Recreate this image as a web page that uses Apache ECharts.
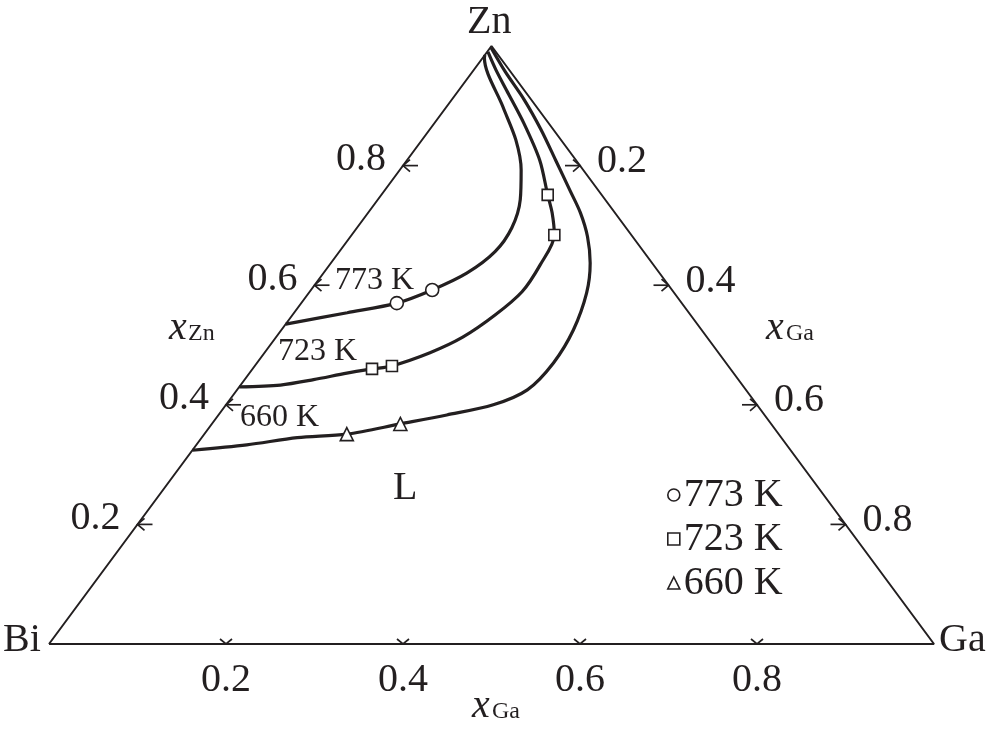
<!DOCTYPE html>
<html>
<head>
<meta charset="utf-8">
<script src="https://cdn.jsdelivr.net/npm/echarts@6/dist/echarts.min.js"></script>
<style>
  html, body { margin: 0; padding: 0; background: #fff; }
  #chart { width: 1000px; height: 734px; }
</style>
</head>
<body>
<div id="chart"></div>
<script>
// liquidus curves, points given as [xGa, xZn]
const curve773 = [
  [0.000, 0.535], [0.060, 0.554], [0.108, 0.570], [0.137, 0.592], [0.162, 0.620],
  [0.176, 0.656], [0.175, 0.696], [0.161, 0.743], [0.137, 0.793], [0.106, 0.843],
  [0.064, 0.898], [0.002, 0.980], [0.000, 0.985]
];
const curve723 = [
  [0.000, 0.430], [0.045, 0.433], [0.078, 0.442], [0.110, 0.453], [0.135, 0.460],
  [0.155, 0.465], [0.187, 0.487], [0.211, 0.513], [0.229, 0.550], [0.240, 0.589],
  [0.238, 0.634], [0.229, 0.684], [0.208, 0.721], [0.188, 0.751], [0.150, 0.809],
  [0.101, 0.871], [0.054, 0.926], [0.025, 0.960], [0.001, 0.990]
];
const curve660 = [
  [0.000, 0.324], [0.057, 0.333], [0.108, 0.345], [0.161, 0.351], [0.213, 0.368],
  [0.258, 0.383], [0.302, 0.400], [0.328, 0.425], [0.335, 0.470], [0.330, 0.525],
  [0.314, 0.587], [0.293, 0.637], [0.268, 0.681], [0.240, 0.721], [0.209, 0.759],
  [0.168, 0.809], [0.126, 0.860], [0.082, 0.910], [0.037, 0.957], [0.001, 0.997]
];

// experimental points, [xGa, xZn]
const points773 = [[0.108, 0.570], [0.137, 0.592]];
const points723 = [[0.135, 0.460], [0.155, 0.465], [0.229, 0.684], [0.188, 0.751]];
const points660 = [[0.161, 0.351], [0.213, 0.368]];

const seriesNames = ['773 K', '723 K', '660 K'];
const tickValues = [0.2, 0.4, 0.6, 0.8];
const tickLabels = ['0.2', '0.4', '0.6', '0.8'];
const vertices = [[0, 0], [1, 0], [0, 1], [0, 0]]; // Bi, Ga, Zn as [xGa, xZn]

const ink = '#231f20';
const serif = '"Liberation Serif", "DejaVu Serif", serif';

// ternary [xGa, xZn] -> plane [x, y]
const toXY = (p) => [p[0] + p[1] / 2, p[1]];

const curveSeries = (data) => ({
  type: 'line',
  data: data.map(toXY),
  smooth: 0.3,
  symbol: 'none',
  lineStyle: { color: ink, width: 3.2 },
  z: 3,
});

const markerSeries = (name, symbol, size, data) => ({
  name,
  type: 'scatter',
  data: data.map(toXY),
  symbol,
  symbolSize: size,
  itemStyle: { color: '#fff', borderColor: ink, borderWidth: 1.6, opacity: 1 },
  z: 5,
});

const lineStyle = { stroke: ink, lineWidth: 1.7, fill: null };
const tickText = (text, x, y) => ({
  type: 'text',
  style: {
    text, x, y, fill: ink, font: `40px ${serif}`, align: 'center', verticalAlign: 'middle',
  },
});

const tickSeries = (side) => ({
  type: 'custom',
  data: tickValues.map((v, i) => [v, i]),
  z: 4,
  renderItem(params, api) {
    const v = api.value(0);
    const label = tickLabels[api.value(1)];
    let p;
    let children;
    if (side === 'left') {
      p = api.coord(toXY([0, v]));
      children = [
        { type: 'polyline', shape: { points: [[p[0] + 15, p[1]], [p[0], p[1]]] }, style: lineStyle },
        { type: 'polyline', shape: { points: [[p[0] + 7, p[1] - 6], [p[0], p[1]], [p[0] + 7, p[1] + 6]] }, style: lineStyle },
        tickText(label, p[0] - 42, p[1] - 6),
      ];
    } else if (side === 'right') {
      p = api.coord(toXY([v, 1 - v]));
      children = [
        { type: 'polyline', shape: { points: [[p[0] - 15, p[1]], [p[0], p[1]]] }, style: lineStyle },
        { type: 'polyline', shape: { points: [[p[0] - 7, p[1] - 6], [p[0], p[1]], [p[0] - 7, p[1] + 6]] }, style: lineStyle },
        tickText(label, p[0] + 42, p[1] - 4),
      ];
    } else {
      p = api.coord(toXY([v, 0]));
      children = [
        { type: 'polyline', shape: { points: [[p[0] - 6, p[1] - 5], [p[0], p[1]], [p[0] + 6, p[1] - 5]] }, style: lineStyle },
        tickText(label, p[0], p[1] + 36),
      ];
    }
    return { type: 'group', children };
  },
});

const plainText = (text, left, top, size, italic) => ({
  type: 'text',
  left,
  top,
  style: {
    text, fill: ink, font: `${italic ? 'italic ' : ''}${size}px ${serif}`,
  },
});

const myChart = echarts.init(document.getElementById('chart'));

const option = {
  animation: false,
  grid: { left: 49, right: 66, top: 46, bottom: 90 },
  xAxis: { type: 'value', min: 0, max: 1, show: false },
  yAxis: { type: 'value', min: 0, max: 1, show: false },
  legend: {
    data: seriesNames,
    orient: 'vertical',
    left: 662,
    top: 470,
    itemWidth: 12,
    itemHeight: 12,
    itemGap: 4,
    itemStyle: { color: '#fff', borderColor: ink, borderWidth: 1.6 },
    textStyle: { fontFamily: serif, fontSize: 40, color: ink, padding: [0, 0, 0, -1] },
  },
  graphic: [
    plainText('Zn', 467, 2, 40),
    plainText('Bi', 3, 620, 40),
    plainText('Ga', 939, 620, 40),
    plainText('L', 393, 468, 40),
    plainText('773 K', 335, 265, 32),
    plainText('723 K', 278, 336, 32),
    plainText('660 K', 240, 402, 32),
    plainText('x', 169, 308, 40, true),
    plainText('Zn', 188, 322, 24),
    plainText('x', 766, 308, 40, true),
    plainText('Ga', 786, 322, 24),
    plainText('x', 472, 686, 40, true),
    plainText('Ga', 492, 700, 24),
  ],
  series: [
    {
      type: 'line',
      data: vertices.map(toXY),
      symbol: 'none',
      lineStyle: { color: ink, width: 2 },
      z: 2,
    },
    curveSeries(curve773),
    curveSeries(curve723),
    curveSeries(curve660),
    markerSeries(seriesNames[0], 'circle', 13, points773),
    markerSeries(seriesNames[1], 'rect', 11, points723),
    markerSeries(seriesNames[2], 'triangle', 13, points660),
    tickSeries('left'),
    tickSeries('right'),
    tickSeries('bottom'),
  ],
};

myChart.setOption(option);
</script>
</body>
</html>
